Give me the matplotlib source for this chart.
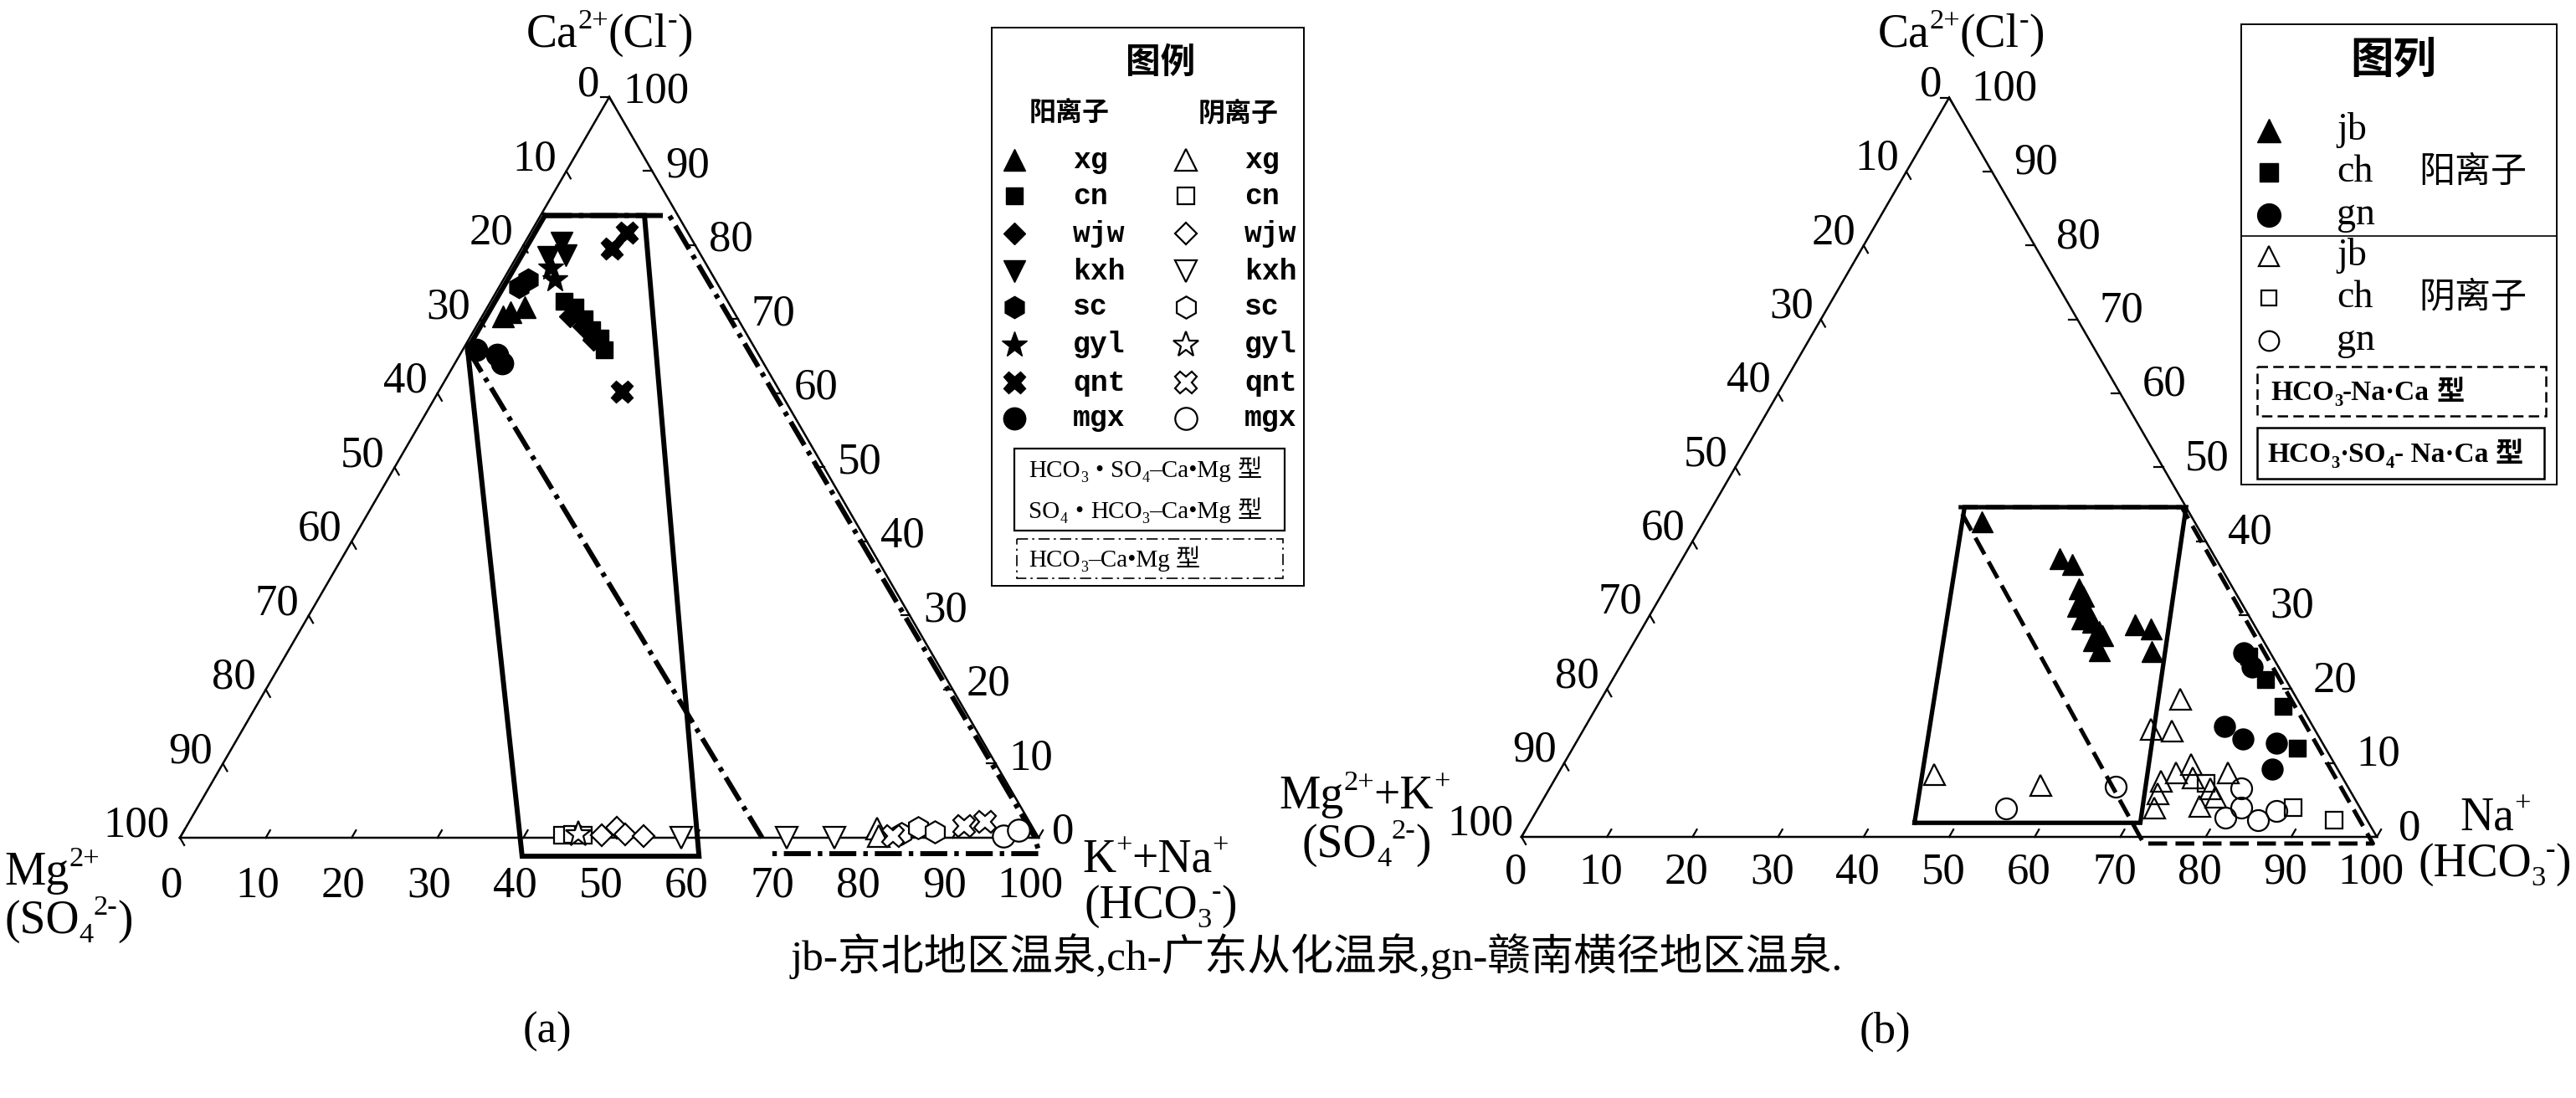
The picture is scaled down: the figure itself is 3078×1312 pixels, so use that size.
import numpy as np
import matplotlib
matplotlib.use('Agg')
import matplotlib.pyplot as plt
from matplotlib.patches import Rectangle

W, H, DPI = 3078, 1312, 100
SERIF = ['Liberation Serif', 'Noto Sans CJK SC']
CJK = ['Noto Sans CJK SC', 'Liberation Serif']
MONO = ['Liberation Mono', 'Noto Sans CJK SC']
S3 = np.sqrt(3) / 2

# ======================= DATA =======================
tick_values = list(range(0, 101, 10))

# ---- (a)  cations: (K+Na %, Ca %) ----
a_cat_xg = [(3.05, 70.9), (4.4, 71.6), (2.4, 70.4)]
a_cat_cn = [(8.5, 72.4), (10.2, 71.6), (12.0, 70.1), (13.7, 68.6), (15.2, 67.5), (16.5, 65.9)]
a_cat_wjw = [(10.2, 70.4), (12.5, 69.0), (14.5, 67.2)]
a_cat_kxh = [(4.25, 80.3), (3.7, 78.4), (5.6, 78.6)]
a_cat_sc = [(2.35, 74.3), (2.8, 75.4)]
a_cat_gyl = [(4.7, 76.9), (6.0, 75.4)]
a_cat_qnt = [(10.5, 79.5), (11.15, 81.7), (21.4, 60.2)]
a_cat_mgx = [(4.3, 65.2), (5.5, 64.1), (1.6, 65.9)]
# ---- (a)  anions: (HCO3 %, Cl %) ----
a_an_xg = [(80.6, 1.2), (81.3, 0.2)]
a_an_cn = [(44.4, 0.3), (45.5, 0.4), (46.8, 0.3)]
a_an_wjw = [(49.0, 0.3), (50.2, 1.4), (51.6, 0.5), (53.9, 0.2)]
a_an_kxh = [(58.4, 0.0), (70.7, 0.0), (76.2, 0.0)]
a_an_sc = [(83.7, 0.6), (85.3, 1.3), (87.5, 0.8)]
a_an_gyl = [(46.2, 0.4)]
a_an_qnt = [(82.9, 0.2), (90.5, 1.6), (92.7, 2.2)]
a_an_mgx = [(95.8, 0.2), (97.2, 1.0)]
a_groups = ['xg', 'cn', 'wjw', 'kxh', 'sc', 'gyl', 'qnt', 'mgx']
a_cations = [a_cat_xg, a_cat_cn, a_cat_wjw, a_cat_kxh, a_cat_sc, a_cat_gyl, a_cat_qnt, a_cat_mgx]
a_anions = [a_an_xg, a_an_cn, a_an_wjw, a_an_kxh, a_an_sc, a_an_gyl, a_an_qnt, a_an_mgx]
# ---- (a) water-type boundaries (Na %, Ca %) ----
a_poly_solid = [(0.5, 84), (12.1, 84), (61.7, -2.5), (41.1, -2.5), (0.5, 66), (0.5, 84)]
a_poly_dashdot = [(0.5, 84), (15.0, 84), (99.3, 0.3), (101.2, -2.15), (69.5, -2.15)]
a_poly_dashdot_diag = [(0.5, 66), (67.8, 0)]

# ---- (b)  cations: (Na %, Ca %) ----
b_cat_jb = [(32.5, 42.7), (44.1, 37.7), (45.9, 36.9), (48.4, 33.6), (49.4, 32.6), (49.3, 31.3),
            (50.7, 30.7), (50.7, 29.6), (52.2, 29.1), (53.6, 27.9), (53.5, 26.6), (54.3, 27.3),
            (54.9, 25.3), (57.4, 28.7), (59.5, 28.2), (61.1, 25.1)]
b_cat_ch = [(72.8, 24.4), (76.3, 21.3), (80.2, 17.7), (84.7, 12.0)]
b_cat_gn = [(72.0, 24.9), (73.9, 23.0), (74.7, 14.9), (77.7, 13.3), (81.9, 12.7), (83.2, 9.2)]
# ---- (b)  anions: (HCO3 %, Cl %) ----
b_an_jb = [(44.0, 8.5), (57.2, 7.0), (67.7, 18.7), (66.3, 14.6), (68.8, 14.4), (71.0, 7.6),
           (71.4, 5.9), (72.0, 4.0), (72.2, 8.7), (73.3, 9.9), (74.5, 8.0), (77.2, 6.6),
           (77.2, 4.2), (78.2, 8.7), (78.4, 5.4)]
b_an_ch = [(88.2, 4.0), (93.9, 2.3), (76.4, 7.3)]
b_an_gn = [(54.8, 3.8), (66.1, 6.8), (80.8, 6.6), (82.1, 4.0), (81.0, 2.6), (85.0, 2.3), (86.5, 3.5)]
b_groups = ['jb', 'ch', 'gn']
b_cations = [b_cat_jb, b_cat_ch, b_cat_gn]
b_anions = [b_an_jb, b_an_ch, b_an_gn]
# ---- (b) water-type boundaries (Na %, Ca %) ----
b_poly_solid = [(45.0, 1.9), (29.5, 44.6), (55.4, 44.6), (71.4, 1.9), (45.0, 1.9)]
b_poly_dashed = [(28.8, 44.6), (54.9, 44.6), (100.0, -0.9), (73.2, -0.9), (28.8, 44.6)]

caption = 'jb-京北地区温泉,ch-广东从化温泉,gn-赣南横径地区温泉.'

# ======================= STYLE =======================
a_marker = {'xg': '^', 'cn': 's', 'wjw': 'D', 'kxh': 'v', 'sc': 'h', 'gyl': '*', 'qnt': 'X', 'mgx': 'o'}
b_marker = {'jb': '^', 'ch': 's', 'gn': 'o'}
msscale = {'^': 1.0, 'v': 1.0, 's': 0.78, 'D': 0.72, 'h': 1.0, '*': 1.2, 'X': 1.0, 'o': 1.0}


def tern(pts):
    p = np.asarray(pts, dtype=float)
    na, ca = p[:, 0], p[:, 1]
    return na + ca / 2.0, ca * S3


fig = plt.figure(figsize=(W / DPI, H / DPI), dpi=DPI)
fig.patch.set_facecolor('white')


def make_ax(px0, px1, ox, oy, sx, sy):
    ax = fig.add_axes([px0 / W, 0, (px1 - px0) / W, 1])
    ax.set_xlim((px0 - ox) / sx, (px1 - ox) / sx)
    ax.set_ylim((oy - H) / sy, oy / sy)
    ax.axis('off')
    return ax


axA = make_ax(0, 1539, 215, 1001, 10.26, 10.22)
axB = make_ax(1539, W, 1818, 1000, 10.22, 10.2)

PX = 0.72  # px -> points


def draw_frame(ax, off_bottom, off_left, off_right, fs=38):
    ax.plot([0, 100, 50, 0], [0, 0, 100 * S3, 0], color='k', lw=1.8, zorder=2,
            solid_joinstyle='miter', clip_on=False)
    L = 1.0
    for v in tick_values:
        ax.plot([v, v + 0.5 * L], [0, S3 * L], color='k', lw=1.6, clip_on=False)
        x, y = tern([(0, 100 - v)])
        ax.plot([x[0], x[0] + 0.5 * L], [y[0], y[0] - S3 * L], color='k', lw=1.6, clip_on=False)
        x2, y2 = tern([(100 - v, v)])
        ax.plot([x2[0], x2[0] - L], [y2[0], y2[0]], color='k', lw=1.6, clip_on=False)
        ax.annotate(str(v), xy=(v, 0), xytext=(off_bottom[0] * PX, off_bottom[1] * PX),
                    textcoords='offset points', ha='center', va='center', fontsize=fs,
                    family=SERIF, annotation_clip=False)
        ax.annotate(str(v), xy=(x[0], y[0]), xytext=(off_left[0] * PX, off_left[1] * PX),
                    textcoords='offset points', ha='right', va='center', fontsize=fs,
                    family=SERIF, annotation_clip=False)
        ax.annotate(str(v), xy=(x2[0], y2[0]), xytext=(off_right[0] * PX, off_right[1] * PX),
                    textcoords='offset points', ha='left', va='center', fontsize=fs,
                    family=SERIF, annotation_clip=False)


draw_frame(axA, (-10, -58), (-12, 14), (16, 6))
draw_frame(axB, (-7, -43), (-9, 15), (26, 10))

# boundaries (a)
dashdot = (0, (5.4, 1.4, 0.9, 1.4))
x, y = tern(a_poly_solid)
axA.plot(x, y, color='k', lw=4.3, zorder=3, clip_on=False, solid_joinstyle='miter')
x, y = tern(a_poly_dashdot)
axA.plot(x, y, color='k', lw=4.3, ls=dashdot, zorder=3, clip_on=False)
x, y = tern(a_poly_dashdot_diag)
axA.plot(x, y, color='k', lw=4.3, ls=dashdot, zorder=3, clip_on=False)

# boundaries (b)
x, y = tern(b_poly_solid)
axB.plot(x, y, color='k', lw=3.8, zorder=3, clip_on=False, solid_joinstyle='miter')
x, y = tern(b_poly_dashed)
axB.plot(x, y, color='k', lw=3.6, ls=(0, (4.5, 2.0)), zorder=3, clip_on=False)

# points (a)
MS_A = 19
for g, cat, an in zip(a_groups, a_cations, a_anions):
    m = a_marker[g]
    ms = MS_A * msscale[m]
    x, y = tern(cat)
    axA.plot(x, y, ls='none', marker=m, ms=ms, mfc='k', mec='k', mew=1.0, zorder=5, clip_on=False)
    x, y = tern(an)
    axA.plot(x, y, ls='none', marker=m, ms=ms, mfc='white', mec='k', mew=1.6, zorder=5, clip_on=False)

# points (b)
MS_B = 18
for g, cat, an in zip(b_groups, b_cations, b_anions):
    m = b_marker[g]
    ms = MS_B * msscale[m]
    x, y = tern(cat)
    axB.plot(x, y, ls='none', marker=m, ms=ms, mfc='k', mec='k', mew=1.0, zorder=5, clip_on=False)
    x, y = tern(an)
    axB.plot(x, y, ls='none', marker=m, ms=ms, mfc='none', mec='k', mew=1.6, zorder=5, clip_on=False)

# ======================= OVERLAY (pixel coords) =======================
ov = fig.add_axes([0, 0, 1, 1])
ov.set_xlim(0, W)
ov.set_ylim(H, 0)
ov.axis('off')
ov.patch.set_alpha(0)

renderer = fig.canvas.get_renderer()


def rich(x, y, runs, size, ha='left', family=SERIF, weight='normal'):
    items = []
    spx = size * DPI / 72.0
    for s, kind in runs:
        if kind == 'gap':
            items.append((None, s * spx, kind))
            continue
        fs = size if kind == 'n' else size * 0.62
        t = ov.text(0, y, s, fontsize=fs, family=family, weight=weight,
                    ha='left', va='baseline', zorder=10)
        w = t.get_window_extent(renderer).width
        items.append((t, w, kind))
    total = sum(w for _, w, _ in items)
    cur = x - total * {'left': 0.0, 'center': 0.5, 'right': 1.0}[ha]
    for t, w, kind in items:
        if t is not None:
            dy = {'n': 0.0, 'sub': 0.2 * spx, 'sup': -0.40 * spx}[kind]
            t.set_position((cur, y + dy))
        cur += w


VFS = 40
ca_runs = [('Ca', 'n'), ('2+', 'sup'), ('(Cl', 'n'), ('-', 'sup'), (')', 'n')]
so4_runs = [('(SO', 'n'), ('4', 'sub'), ('2-', 'sup'), (')', 'n')]
hco3_runs = [('(HCO', 'n'), ('3', 'sub'), ('-', 'sup'), (')', 'n')]

rich(728, 56, ca_runs, VFS, ha='center')
rich(5, 1057, [('Mg', 'n'), ('2+', 'sup')], VFS)
rich(5, 1115, so4_runs, VFS)
rich(1293, 1042, [('K', 'n'), ('+', 'sup'), ('+Na', 'n'), ('+', 'sup')], VFS)
rich(1295, 1097, hco3_runs, VFS)

rich(2343, 56, ca_runs, VFS, ha='center')
rich(1528, 966, [('Mg', 'n'), ('2+', 'sup'), ('+K', 'n'), ('+', 'sup')], VFS)
rich(1556, 1024, so4_runs, VFS)
rich(2939, 992, [('Na', 'n'), ('+', 'sup')], VFS)
rich(2889, 1047, hco3_runs, VFS)

ov.text(1573, 1143, caption, ha='center', va='center', fontsize=37, family=SERIF, zorder=10)
ov.text(654, 1233, '(a)', ha='center', va='center', fontsize=38, family=SERIF, zorder=10)
ov.text(2252, 1233, '(b)', ha='center', va='center', fontsize=38, family=SERIF, zorder=10)

# ---------- legend (a) ----------
ov.add_patch(Rectangle((1185, 33), 373, 667, fill=False, ec='k', lw=1.4, zorder=9))
ov.text(1387, 75, '图例', ha='center', va='center', fontsize=30, family=CJK, weight='bold', zorder=10)
ov.text(1278, 135, '阳离子', ha='center', va='center', fontsize=23, family=CJK, weight='bold', zorder=10)
ov.text(1480, 135, '阴离子', ha='center', va='center', fontsize=23, family=CJK, weight='bold', zorder=10)
rows_a = [191, 234, 279, 324, 367, 412, 457, 500]
for g, ry in zip(a_groups, rows_a):
    m = a_marker[g]
    ms = 19 * msscale[m]
    ov.plot([1212], [ry], marker=m, ms=ms, mfc='k', mec='k', ls='none', zorder=10)
    ov.plot([1417], [ry], marker=m, ms=ms, mfc='white', mec='k', mew=1.6, ls='none', zorder=10)
    ov.text(1282, ry, g, ha='left', va='center', fontsize=25, family=MONO, weight='bold', zorder=10)
    ov.text(1487, ry, g, ha='left', va='center', fontsize=25, family=MONO, weight='bold', zorder=10)
ov.add_patch(Rectangle((1212, 536), 323, 98, fill=False, ec='k', lw=1.6, zorder=9))
rich(1229, 570, [('HCO', 'n'), ('3', 'sub'), (0.3, 'gap'), ('•', 'n'), (0.3, 'gap'), ('SO', 'n'),
                 ('4', 'sub'), ('–Ca•Mg', 'n'), (0.25, 'gap'), ('型', 'n')], 21)
rich(1229, 619, [('SO', 'n'), ('4', 'sub'), (0.3, 'gap'), ('•', 'n'), (0.3, 'gap'), ('HCO', 'n'),
                 ('3', 'sub'), ('–Ca•Mg', 'n'), (0.25, 'gap'), ('型', 'n')], 21)
ov.add_patch(Rectangle((1215, 644), 318, 47, fill=False, ec='k', lw=1.2, ls=(0, (8, 3, 1.5, 3)), zorder=9))
rich(1229, 677, [('HCO', 'n'), ('3', 'sub'), ('–Ca•Mg', 'n'), (0.25, 'gap'), ('型', 'n')], 21)

# ---------- legend (b) ----------
ov.add_patch(Rectangle((2678, 29), 377, 550, fill=False, ec='k', lw=1.4, zorder=9))
ov.text(2860, 72, '图列', ha='center', va='center', fontsize=37, family=CJK, weight='bold', zorder=10)
rows_cat = [156, 206, 257]
rows_an = [306, 356, 407]
for g, ry in zip(b_groups, rows_cat):
    m = b_marker[g]
    ov.plot([2711], [ry], marker=m, ms=20 * msscale[m], mfc='k', mec='k', ls='none', zorder=10)
    ov.text(2792, ry + 11, g, ha='left', va='baseline', fontsize=33, family=SERIF, zorder=10)
for g, ry in zip(b_groups, rows_an):
    m = b_marker[g]
    ov.plot([2711], [ry], marker=m, ms=17 * msscale[m], mfc='white', mec='k', mew=1.6, ls='none', zorder=10)
    ov.text(2792, ry + 11, g, ha='left', va='baseline', fontsize=33, family=SERIF, zorder=10)
ov.text(2955, 206, '阳离子', ha='center', va='center', fontsize=31, family=CJK, zorder=10)
ov.text(2955, 356, '阴离子', ha='center', va='center', fontsize=31, family=CJK, zorder=10)
ov.plot([2678, 3055], [282, 282], color='k', lw=1.2, zorder=10)
ov.add_patch(Rectangle((2697, 438), 345, 59, fill=False, ec='k', lw=1.8, ls=(0, (5, 2.5)), zorder=9))
rich(2713, 478, [('HCO', 'n'), ('3', 'sub'), ('-Na·Ca', 'n'), (0.25, 'gap'), ('型', 'n')], 24, weight='bold')
ov.add_patch(Rectangle((2697, 511), 343, 61, fill=False, ec='k', lw=1.8, zorder=9))
rich(2709, 552, [('HCO', 'n'), ('3', 'sub'), ('·SO', 'n'), ('4', 'sub'), ('- Na·Ca', 'n'),
                 (0.25, 'gap'), ('型', 'n')], 24, weight='bold')

fig.savefig('out.png', dpi=DPI, facecolor='white')
